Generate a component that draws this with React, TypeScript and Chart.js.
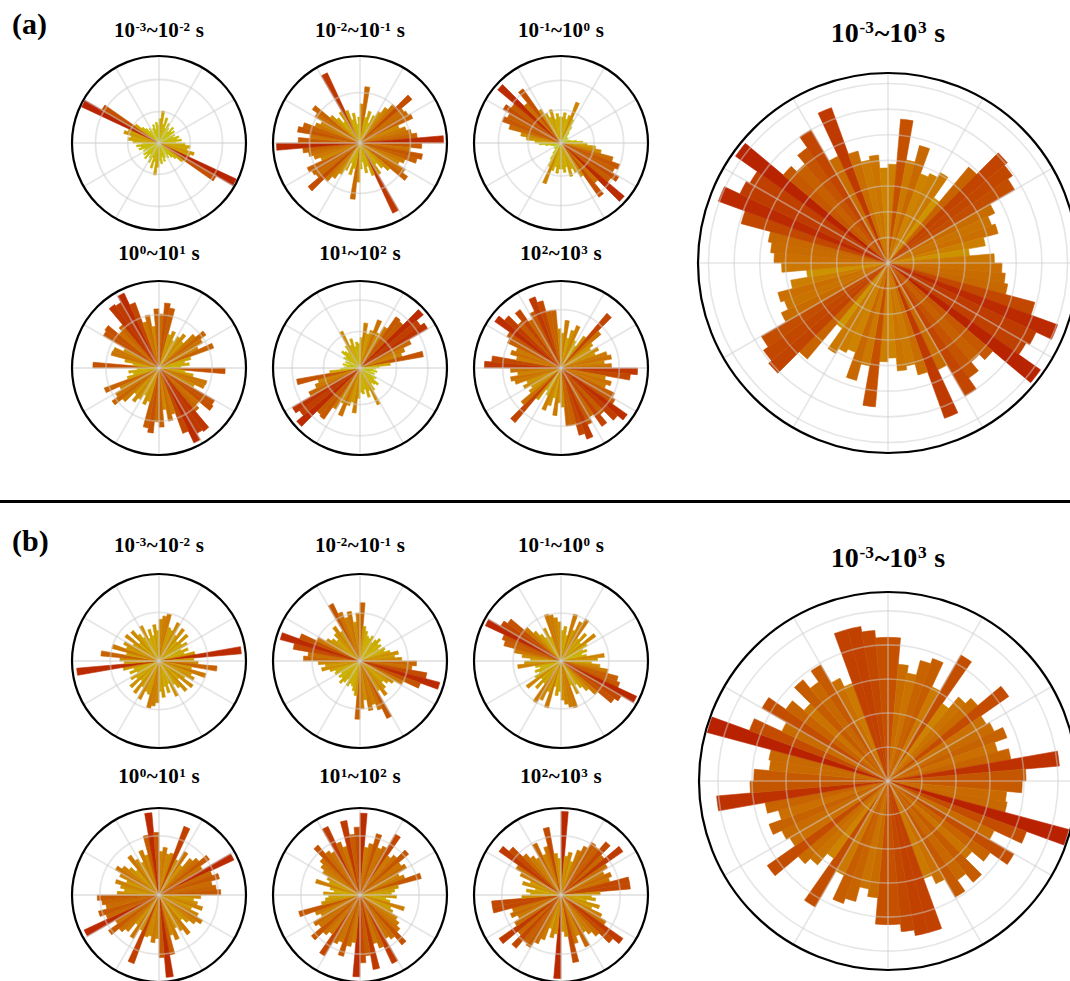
import React, { useEffect, useRef } from "react";
import { Chart, registerables } from "chart.js";

Chart.register(...registerables);

// Azimuth bins: 5° wide, clockwise from north, 0–180°. Orientations are axial,
// so the 180–360° half repeats the same counts.
const BIN_WIDTH = 5;
const binLabels = Array.from({ length: 72 }, (_, i) => `${i * BIN_WIDTH}°`);

// Normalised bin lengths (outer circle = 1), panel (a)
const a1 = [0.28, 0.37, 0.22, 0.30, 0.18, 0.25, 0.20, 0.16, 0.24, 0.19, 0.22, 0.15, 0.20, 0.17, 0.24, 0.21, 0.26, 0.19, 0.30, 0.36, 0.33, 0.42, 0.38, 0.98, 0.76, 0.34, 0.26, 0.22, 0.17, 0.20, 0.14, 0.18, 0.22, 0.16, 0.24, 0.20];
const a2 = [0.45, 0.65, 0.30, 0.38, 0.25, 0.35, 0.42, 0.50, 0.58, 0.78, 0.62, 0.64, 0.67, 0.48, 0.55, 0.60, 0.66, 0.96, 0.71, 0.58, 0.73, 0.68, 0.55, 0.50, 0.60, 0.67, 0.45, 0.38, 0.30, 0.42, 0.89, 0.40, 0.28, 0.35, 0.22, 0.30];
const a3 = [0.30, 0.35, 0.28, 0.33, 0.50, 0.30, 0.22, 0.15, 0.10, 0.08, 0.10, 0.07, 0.09, 0.06, 0.10, 0.12, 0.18, 0.25, 0.30, 0.40, 0.47, 0.62, 0.72, 0.68, 0.77, 0.70, 0.95, 0.60, 0.76, 0.45, 0.38, 0.32, 0.40, 0.28, 0.34, 0.30];
const a4 = [0.62, 0.75, 0.70, 0.40, 0.45, 0.35, 0.42, 0.48, 0.40, 0.55, 0.66, 0.58, 0.50, 0.67, 0.38, 0.30, 0.35, 0.25, 0.76, 0.30, 0.40, 0.57, 0.56, 0.45, 0.74, 0.76, 0.60, 0.65, 0.89, 0.87, 0.95, 0.80, 0.55, 0.62, 0.48, 0.68];
const a5 = [0.35, 0.52, 0.40, 0.45, 0.59, 0.45, 0.55, 0.72, 0.70, 0.95, 0.85, 0.90, 0.65, 0.55, 0.50, 0.74, 0.35, 0.22, 0.18, 0.15, 0.20, 0.12, 0.18, 0.15, 0.22, 0.20, 0.28, 0.25, 0.22, 0.30, 0.47, 0.28, 0.35, 0.25, 0.30, 0.28];
const a6 = [0.40, 0.55, 0.35, 0.45, 0.52, 0.35, 0.30, 0.45, 0.82, 0.60, 0.45, 0.40, 0.48, 0.42, 0.55, 0.59, 0.50, 0.58, 0.88, 0.80, 0.52, 0.60, 0.55, 0.68, 0.72, 0.93, 0.85, 0.70, 0.82, 0.65, 0.72, 0.87, 0.80, 0.67, 0.67, 0.45];
const aAll = [0.52, 0.76, 0.55, 0.64, 0.50, 0.52, 0.55, 0.42, 0.66, 0.82, 0.80, 0.77, 0.62, 0.58, 0.60, 0.52, 0.43, 0.56, 0.60, 0.62, 0.64, 0.80, 0.95, 0.86, 0.84, 0.98, 0.72, 0.68, 0.74, 0.81, 0.62, 0.87, 0.61, 0.55, 0.57, 0.50];

// Panel (b)
const b1 = [0.48, 0.52, 0.55, 0.40, 0.38, 0.49, 0.35, 0.46, 0.30, 0.44, 0.32, 0.38, 0.28, 0.36, 0.30, 0.42, 0.95, 0.40, 0.45, 0.67, 0.38, 0.56, 0.40, 0.45, 0.35, 0.48, 0.30, 0.46, 0.38, 0.32, 0.45, 0.28, 0.38, 0.30, 0.42, 0.35];
const b2 = [0.67, 0.40, 0.35, 0.30, 0.28, 0.32, 0.25, 0.30, 0.34, 0.28, 0.30, 0.25, 0.32, 0.30, 0.36, 0.45, 0.40, 0.48, 0.65, 0.60, 0.78, 0.95, 0.74, 0.55, 0.45, 0.40, 0.35, 0.42, 0.49, 0.40, 0.73, 0.60, 0.52, 0.58, 0.45, 0.55];
const b3 = [0.35, 0.40, 0.30, 0.56, 0.38, 0.50, 0.56, 0.32, 0.42, 0.30, 0.49, 0.35, 0.28, 0.32, 0.25, 0.30, 0.50, 0.42, 0.35, 0.45, 0.55, 0.68, 0.72, 0.96, 0.80, 0.75, 0.55, 0.45, 0.38, 0.32, 0.42, 0.30, 0.56, 0.54, 0.50, 0.45];
const b4 = [0.50, 0.55, 0.48, 0.50, 0.84, 0.45, 0.58, 0.42, 0.55, 0.60, 0.71, 0.58, 0.95, 0.65, 0.72, 0.62, 0.66, 0.71, 0.48, 0.40, 0.45, 0.52, 0.40, 0.50, 0.58, 0.52, 0.45, 0.38, 0.56, 0.48, 0.42, 0.55, 0.48, 0.70, 0.95, 0.72];
const b5 = [0.94, 0.55, 0.60, 0.73, 0.58, 0.62, 0.81, 0.55, 0.60, 0.73, 0.58, 0.62, 0.50, 0.55, 0.73, 0.45, 0.40, 0.36, 0.42, 0.30, 0.35, 0.53, 0.38, 0.42, 0.50, 0.55, 0.60, 0.75, 0.62, 0.58, 0.87, 0.65, 0.58, 0.87, 0.70, 0.78];
const b6 = [0.96, 0.45, 0.50, 0.40, 0.55, 0.62, 0.70, 0.68, 0.80, 0.65, 0.87, 0.62, 0.55, 0.62, 0.58, 0.80, 0.80, 0.45, 0.35, 0.40, 0.30, 0.46, 0.38, 0.52, 0.60, 0.87, 0.78, 0.62, 0.55, 0.50, 0.66, 0.50, 0.58, 0.79, 0.48, 0.42];
const bAll = [0.76, 0.62, 0.58, 0.66, 0.69, 0.55, 0.77, 0.50, 0.58, 0.62, 0.78, 0.60, 0.62, 0.67, 0.60, 0.66, 0.91, 0.73, 0.71, 0.63, 0.64, 0.99, 0.78, 0.62, 0.77, 0.66, 0.58, 0.70, 0.64, 0.71, 0.60, 0.55, 0.83, 0.83, 0.80, 0.76];

// Radial grid rings (same normalised units)
const ringsA = [[0.36, 0.73], [0.58], [0.38, 0.72], [0.61], [0.42, 0.78], [0.67]];
const ringsAAll = [0.135, 0.27, 0.405, 0.54, 0.675, 0.81, 0.945];
const ringsB = [[0.56], [0.55], [0.55], [0.68], [0.68], [0.68]];
const ringsBAll = [0.18, 0.36, 0.54, 0.72, 0.9];

// Time-window exponents for the titles: 10^lo ~ 10^hi s
const windowExponents = [["-3", "-2"], ["-2", "-1"], ["-1", "0"], ["0", "1"], ["1", "2"], ["2", "3"]];
const totalExponents = ["-3", "3"];

// Colour ramp from short (yellow) to long (red) bins
const colorStops: [number, number[]][] = [
  [0.0, [182, 204, 0]],
  [0.2, [200, 190, 0]],
  [0.35, [205, 164, 0]],
  [0.5, [205, 130, 0]],
  [0.65, [200, 102, 0]],
  [0.8, [194, 72, 0]],
  [1.0, [184, 32, 0]],
];

function rampColor(v: number): string {
  const t = Math.max(0, Math.min(1, v));
  for (let i = 1; i < colorStops.length; i++) {
    const [t1, c1] = colorStops[i];
    const [t0, c0] = colorStops[i - 1];
    if (t <= t1) {
      const f = (t - t0) / (t1 - t0);
      const c = c0.map((x, k) => Math.round(x + (c1[k] - x) * f));
      return `rgb(${c[0]},${c[1]},${c[2]})`;
    }
  }
  const c = colorStops[colorStops.length - 1][1];
  return `rgb(${c[0]},${c[1]},${c[2]})`;
}

const SERIF = '"Liberation Serif", "Times New Roman", serif';

type RoseProps = {
  values: number[];
  rings: number[];
  cx: number;
  cy: number;
  radius: number;
  big?: boolean;
};

function Rose({ values, rings, cx, cy, radius, big }: RoseProps) {
  const ref = useRef<HTMLCanvasElement>(null);
  const pad = 4;
  const size = radius * 2 + pad * 2;

  useEffect(() => {
    const gridOverlay = {
      id: "gridOverlay",
      afterDatasetsDraw(chart: any) {
        const s = chart.scales.r;
        const ctx = chart.ctx;
        const x0 = s.xCenter;
        const y0 = s.yCenter;
        const R = s.drawingArea;
        ctx.save();
        ctx.strokeStyle = "rgba(205,205,205,0.5)";
        ctx.lineWidth = big ? 1.6 : 1.8;
        for (const v of rings) {
          ctx.beginPath();
          ctx.arc(x0, y0, s.getDistanceFromCenterForValue(v), 0, Math.PI * 2);
          ctx.stroke();
        }
        for (let k = 0; k < 12; k++) {
          const a = (k * 30 * Math.PI) / 180;
          ctx.beginPath();
          ctx.moveTo(x0, y0);
          ctx.lineTo(x0 + R * Math.sin(a), y0 - R * Math.cos(a));
          ctx.stroke();
        }
        ctx.strokeStyle = "#000";
        ctx.lineWidth = 2.2;
        ctx.beginPath();
        ctx.arc(x0, y0, R, 0, Math.PI * 2);
        ctx.stroke();
        ctx.restore();
      },
    };

    const full = [...values, ...values];
    const chart = new Chart(ref.current as HTMLCanvasElement, {
      type: "polarArea",
      data: {
        labels: binLabels,
        datasets: [
          {
            data: full,
            backgroundColor: (c: any) => rampColor(c.raw as number),
            borderColor: (c: any) => rampColor(c.raw as number),
            borderWidth: 0.6,
          },
        ],
      },
      options: {
        responsive: false,
        animation: false,
        layout: { padding: pad },
        plugins: { legend: { display: false }, tooltip: { enabled: false } },
        scales: {
          r: {
            min: 0,
            max: 1,
            startAngle: 0,
            ticks: { display: false },
            grid: { display: false },
            angleLines: { display: false },
            pointLabels: { display: false },
          },
        },
      } as any,
      plugins: [gridOverlay],
    });
    return () => chart.destroy();
  }, []);

  return (
    <canvas
      ref={ref}
      width={size}
      height={size}
      style={{ position: "absolute", left: cx - radius - pad, top: cy - radius - pad, width: size, height: size }}
    />
  );
}

function RangeTitle({ lo, hi, x, top, size }: { lo: string; hi: string; x: number; top: number; size: number }) {
  const sup: React.CSSProperties = { fontSize: "0.62em", position: "relative", top: "-0.5em", margin: "0 0.04em" };
  return (
    <div
      style={{
        position: "absolute",
        left: x,
        top,
        transform: "translateX(-50%)",
        whiteSpace: "nowrap",
        fontFamily: SERIF,
        fontWeight: "bold",
        fontSize: size,
        lineHeight: 1,
        color: "#000",
      }}
    >
      10<span style={sup}>{lo}</span>~10<span style={sup}>{hi}</span> s
    </div>
  );
}

function PanelLabel({ text, top }: { text: string; top: number }) {
  return (
    <div
      style={{
        position: "absolute",
        left: 12,
        top,
        fontFamily: SERIF,
        fontWeight: "bold",
        fontSize: 30,
        lineHeight: 1,
        color: "#000",
      }}
    >
      {text}
    </div>
  );
}

const smallX = [159, 360, 561];

export default function App() {
  const smallR = 87;
  return (
    <div
      style={{
        position: "absolute",
        left: 0,
        top: 0,
        width: 1070,
        height: 981,
        overflow: "hidden",
        background: "#fff",
      }}
    >
      <PanelLabel text="(a)" top={9} />
      {[a1, a2, a3, a4, a5, a6].map((v, i) => {
        const row = Math.floor(i / 3);
        const col = i % 3;
        return (
          <React.Fragment key={`a${i}`}>
            <RangeTitle
              lo={windowExponents[i][0]}
              hi={windowExponents[i][1]}
              x={smallX[col]}
              top={row === 0 ? 20 : 243}
              size={21}
            />
            <Rose values={v} rings={ringsA[i]} cx={smallX[col]} cy={row === 0 ? 143 : 368} radius={smallR} />
          </React.Fragment>
        );
      })}
      <RangeTitle lo={totalExponents[0]} hi={totalExponents[1]} x={888} top={19} size={28} />
      <Rose values={aAll} rings={ringsAAll} cx={888} cy={263} radius={190} big />

      <div style={{ position: "absolute", left: 0, top: 500, width: 1070, height: 3, background: "#000" }} />

      <PanelLabel text="(b)" top={526} />
      {[b1, b2, b3, b4, b5, b6].map((v, i) => {
        const row = Math.floor(i / 3);
        const col = i % 3;
        return (
          <React.Fragment key={`b${i}`}>
            <RangeTitle
              lo={windowExponents[i][0]}
              hi={windowExponents[i][1]}
              x={smallX[col]}
              top={row === 0 ? 535 : 766}
              size={21}
            />
            <Rose values={v} rings={ringsB[i]} cx={smallX[col]} cy={row === 0 ? 661 : 895} radius={smallR} />
          </React.Fragment>
        );
      })}
      <RangeTitle lo={totalExponents[0]} hi={totalExponents[1]} x={888} top={544} size={28} />
      <Rose values={bAll} rings={ringsBAll} cx={888} cy={781} radius={189} big />
    </div>
  );
}
